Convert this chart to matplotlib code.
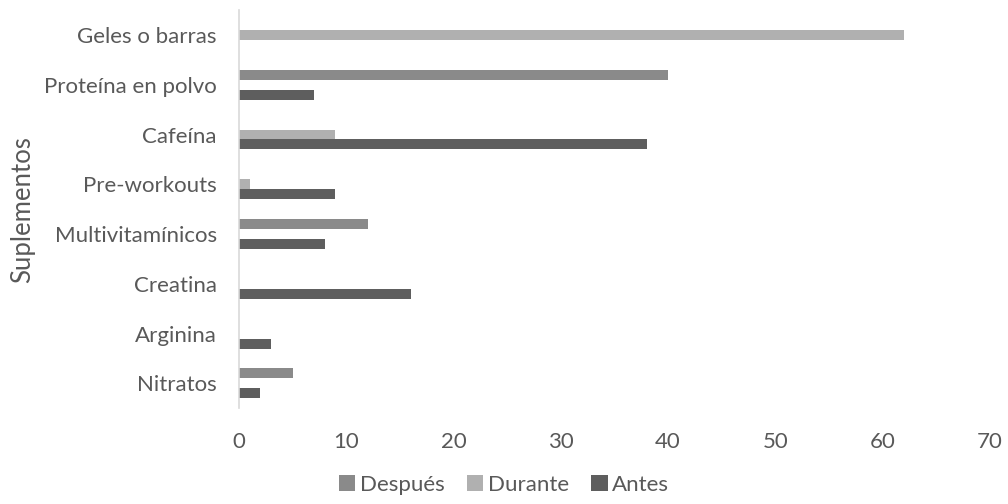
import numpy as np
import matplotlib
matplotlib.use('Agg')
import matplotlib.pyplot as plt

plt.rcParams['font.family'] = ['Lato', 'DejaVu Sans']

suplementos = ['Nitratos', 'Arginina', 'Creatina', 'Multivitamínicos',
               'Pre-workouts', 'Cafeína', 'Proteína en polvo', 'Geles o barras']
antes = [2, 3, 16, 8, 9, 38, 7, 0]
durante = [0, 0, 0, 0, 1, 9, 0, 62]
despues = [5, 0, 0, 12, 0, 0, 40, 0]

col_antes = '#5e5e5e'
col_durante = '#b0b0b0'
col_despues = '#8a8a8a'
gris_txt = '#595959'

fig = plt.figure(figsize=(10.08, 5.04), dpi=100)
ax = fig.add_axes([0.237, 0.19, 0.745, 0.79])

y = np.arange(len(suplementos))
h = 0.2
ax.barh(y + h, despues, height=h, color=col_despues, label='Después')
ax.barh(y, durante, height=h, color=col_durante, label='Durante')
ax.barh(y - h, antes, height=h, color=col_antes, label='Antes')

ax.set_xlim(0, 70)
ax.set_ylim(-0.5, len(suplementos) - 0.5)
ax.set_xticks(range(0, 71, 10))
ax.set_yticks(y)
ax.set_yticklabels(suplementos)
ax.tick_params(axis='both', length=0, labelsize=16, colors=gris_txt)
ax.tick_params(axis='x', pad=17)
ax.tick_params(axis='y', pad=16)

for s in ['top', 'right', 'bottom']:
    ax.spines[s].set_visible(False)
ax.spines['left'].set_color('#d9d9d9')
ax.spines['left'].set_linewidth(1.2)

ax.set_ylabel('Suplementos', fontsize=18.5, color=gris_txt, labelpad=6)

leg = fig.legend(loc='lower center', bbox_to_anchor=(0.5, -0.022), ncol=3, frameon=False,
                 fontsize=16, handlelength=0.75, handleheight=0.75, handletextpad=0.2,
                 columnspacing=1.0)
for t in leg.get_texts():
    t.set_color(gris_txt)

fig.savefig('out.png', dpi=100, facecolor='white')
